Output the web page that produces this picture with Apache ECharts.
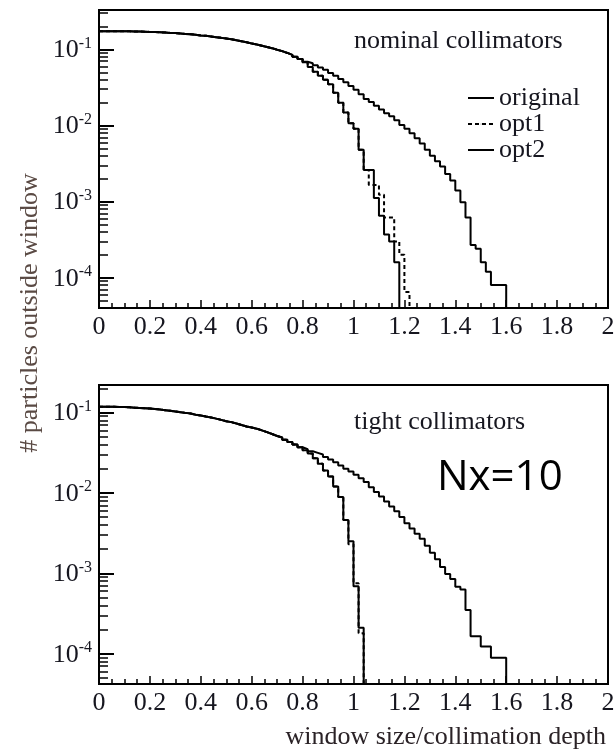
<!DOCTYPE html>
<html>
<head>
<meta charset="utf-8">
<script src="https://cdn.jsdelivr.net/npm/echarts@6/dist/echarts.min.js"></script>
<style>
  html, body { margin: 0; padding: 0; background: #fff; }
  #chart { width: 615px; height: 749px; }
</style>
</head>
<body>
<div id="chart"></div>
<script>
// Histogram bin width along "window size / collimation depth"
const binWidth = 0.02;

// Fraction of particles outside the window, one value per bin starting at 0.
// Nominal collimators: bins 0.00-0.78, common to all three optics
const nominalCore = [
  0.174, 0.174, 0.174, 0.174, 0.173, 0.173, 0.172, 0.172, 0.171, 0.170,
  0.169, 0.168, 0.167, 0.165, 0.164, 0.162, 0.160, 0.158, 0.156, 0.153,
  0.151, 0.148, 0.145, 0.142, 0.139, 0.136, 0.132, 0.128, 0.124, 0.120,
  0.116, 0.112, 0.108, 0.104, 0.099, 0.095, 0.090, 0.085, 0.080, 0.075
];
// Nominal collimators: bins from 0.80 on
const nominalOriginalTail = [
  0.069, 0.066, 0.062, 0.058, 0.054, 0.049, 0.045, 0.041, 0.037, 0.033,
  0.0295, 0.0257, 0.0224, 0.0204, 0.0182, 0.0162, 0.0145, 0.0132, 0.0117, 0.0102,
  0.0091, 0.0079, 0.0068, 0.0058, 0.0048, 0.0040, 0.0034, 0.0029, 0.0023, 0.0019,
  0.0014, 0.00098, 0.00062, 0.00027, 0.00024, 0.00016, 0.00012, 0.00008, 0.00008, 0.00008
];
const nominalOpt1Tail = [
  0.068, 0.059, 0.051, 0.045, 0.040, 0.035, 0.027, 0.020, 0.0148, 0.0107,
  0.0091, 0.0048, 0.0026, 0.00166, 0.00166, 0.00123, 0.00062, 0.00062, 0.00030, 0.00020,
  0.000065
];
const nominalOpt2Tail = [
  0.068, 0.059, 0.051, 0.045, 0.040, 0.035, 0.027, 0.020, 0.0148, 0.0107,
  0.0091, 0.0048, 0.0026, 0.0026, 0.00112, 0.00065, 0.00037, 0.00030, 0.00016
];

// Tight collimators: bins 0.00-0.78, common to all three optics
const tightCore = [
  0.118, 0.118, 0.118, 0.117, 0.117, 0.116, 0.115, 0.114, 0.113, 0.112,
  0.111, 0.109, 0.107, 0.105, 0.103, 0.101, 0.099, 0.097, 0.094, 0.092,
  0.089, 0.087, 0.084, 0.081, 0.078, 0.076, 0.073, 0.070, 0.067, 0.065,
  0.063, 0.060, 0.057, 0.054, 0.051, 0.049, 0.046, 0.043, 0.040, 0.037
];
const tightOriginalTail = [
  0.035, 0.033, 0.0315, 0.030, 0.028, 0.026, 0.024, 0.022, 0.020, 0.0185,
  0.0168, 0.0152, 0.0137, 0.0118, 0.0103, 0.0090, 0.0078, 0.0068, 0.0059, 0.0050,
  0.0042, 0.0036, 0.0031, 0.0027, 0.0022, 0.0018, 0.0015, 0.0012, 0.00098, 0.00085,
  0.00068, 0.00063, 0.00035, 0.000165, 0.000165, 0.000123, 0.000123, 0.000089, 0.000089, 0.000089
];
const tightOpt1Tail = [
  0.034, 0.031, 0.027, 0.023, 0.019, 0.016, 0.012, 0.0089, 0.0046, 0.0023,
  0.00075, 0.00018
];
const tightOpt2Tail = [
  0.034, 0.031, 0.027, 0.023, 0.019, 0.016, 0.012, 0.0089, 0.0046, 0.0025,
  0.00069, 0.00021
];

const seriesNames = ['original', 'opt1', 'opt2'];
const panelTitles = ['nominal collimators', 'tight collimators'];
const decadeTicks = [1e-4, 1e-3, 1e-2, 1e-1];
const yRanges = [[4e-5, 0.33], [4.2e-5, 0.22]];

// Empty bins: the line drops below the axis floor and is clipped there
const EMPTY = 1e-9;

function histogramPoints(values) {
  const pts = values.map((v, i) => [+(i * binWidth).toFixed(2), v]);
  pts.push([+(values.length * binWidth).toFixed(2), EMPTY]);
  return pts;
}

const minorTicks = [];
for (let e = -5; e <= -1; e++) {
  for (let m = 2; m <= 9; m++) minorTicks.push(+(m * Math.pow(10, e)).toPrecision(3));
}

const SERIF = '"Liberation Serif", "DejaVu Serif", serif';
const INK = '#16161f';

const grids = [
  { left: 99, top: 10, width: 509, height: 298 },
  { left: 99, top: 385, width: 509, height: 299 }
].map(g => Object.assign(g, {
  show: true, borderColor: '#000', borderWidth: 2, backgroundColor: 'transparent',
  outerBoundsMode: 'none', containLabel: false
}));

const xAxes = grids.map((g, i) => ({
  type: 'value', gridIndex: i, min: 0, max: 2, interval: 0.2,
  axisLine: { show: true, onZero: false, lineStyle: { color: '#000', width: 2 } },
  axisTick: { show: true, inside: true, length: 8, lineStyle: { color: '#000', width: 1.5 } },
  minorTick: { show: true, splitNumber: 4, length: 5, lineStyle: { color: '#000', width: 1.5 } },
  splitLine: { show: false },
  axisLabel: { show: true, margin: 6, fontFamily: SERIF, fontSize: 26, color: INK, hideOverlap: false }
}));

function decadeLabel(v) {
  const e = Math.log10(v);
  const r = Math.round(e);
  if (Math.abs(e - r) > 1e-6) return '';
  return '{b|10}{s|' + r + '}';
}

const yAxes = [];
grids.forEach((g, i) => {
  yAxes.push({
    type: 'log', logBase: 10, gridIndex: i, position: 'left',
    min: yRanges[i][0], max: yRanges[i][1],
    axisLine: { show: true, onZero: false, lineStyle: { color: '#000', width: 2 } },
    axisTick: { show: true, inside: true, length: 15, customValues: decadeTicks,
      lineStyle: { color: '#000', width: 2 } },
    splitLine: { show: false },
    minorTick: { show: false },
    axisLabel: {
      show: true, margin: 7, customValues: decadeTicks, formatter: decadeLabel,
      hideOverlap: false,
      rich: {
        b: { fontFamily: SERIF, fontSize: 26, color: INK, lineHeight: 28, verticalAlign: 'bottom' },
        s: { fontFamily: SERIF, fontSize: 16, color: INK, lineHeight: 12, verticalAlign: 'top' }
      }
    }
  });
  // second axis on the same edge carries the 2..9 minor ticks of each decade
  yAxes.push({
    type: 'log', logBase: 10, gridIndex: i, position: 'left', offset: 0,
    min: yRanges[i][0], max: yRanges[i][1],
    axisLine: { show: false },
    axisTick: { show: true, inside: true, length: 9, customValues: minorTicks,
      lineStyle: { color: '#000', width: 1.5 } },
    splitLine: { show: false },
    axisLabel: { show: false }
  });
});

function stepSeries(name, values, panel, dashed) {
  return {
    name: name, type: 'line', step: 'end',
    xAxisIndex: panel, yAxisIndex: panel * 2,
    data: histogramPoints(values),
    symbol: 'none', showSymbol: false, clip: true, silent: true,
    lineStyle: { color: '#000', width: 2, type: dashed ? [4, 3] : 'solid' },
    itemStyle: { color: '#000' },
    emphasis: { disabled: true }
  };
}

const series = [
  stepSeries(seriesNames[0], nominalCore.concat(nominalOriginalTail), 0, false),
  stepSeries(seriesNames[1], nominalCore.concat(nominalOpt1Tail), 0, true),
  stepSeries(seriesNames[2], nominalCore.concat(nominalOpt2Tail), 0, false),
  stepSeries(seriesNames[0], tightCore.concat(tightOriginalTail), 1, false),
  stepSeries(seriesNames[1], tightCore.concat(tightOpt1Tail), 1, true),
  stepSeries(seriesNames[2], tightCore.concat(tightOpt2Tail), 1, false)
];

const chart = echarts.init(document.getElementById('chart'), null, { renderer: 'canvas' });
chart.setOption({
  animation: false,
  backgroundColor: '#fff',
  grid: grids,
  xAxis: xAxes,
  yAxis: yAxes,
  series: series,
  legend: {
    data: seriesNames, orient: 'vertical', left: 467, top: 85,
    // a near-zero icon height keeps the legend key to the bare line sample
    itemWidth: 26, itemHeight: 1, itemGap: 0, padding: 0,
    selectedMode: false,
    textStyle: { fontFamily: SERIF, fontSize: 26, color: INK, lineHeight: 26 }
  },
  graphic: [
    { type: 'text', x: 354, y: 41, silent: true,
      style: { text: panelTitles[0], font: '26px ' + SERIF, fill: INK, align: 'left', verticalAlign: 'middle' } },
    { type: 'text', x: 354, y: 422, silent: true,
      style: { text: panelTitles[1], font: '26px ' + SERIF, fill: INK, align: 'left', verticalAlign: 'middle' } },
    { type: 'text', x: 437, y: 478, silent: true,
      style: { text: 'Nx=10', font: '42px "Open Sans", sans-serif', fill: '#000', align: 'left', verticalAlign: 'middle' } },
    { type: 'text', x: 30, y: 313, rotation: Math.PI / 2, silent: true,
      style: { text: '# particles outside window', font: '26px ' + SERIF, fill: '#5a4a44', align: 'center', verticalAlign: 'middle' } },
    { type: 'text', x: 606, y: 737, silent: true,
      style: { text: 'window size/collimation depth', font: '26px ' + SERIF, fill: '#2a2226', align: 'right', verticalAlign: 'middle' } }
  ]
});
</script>
</body>
</html>
